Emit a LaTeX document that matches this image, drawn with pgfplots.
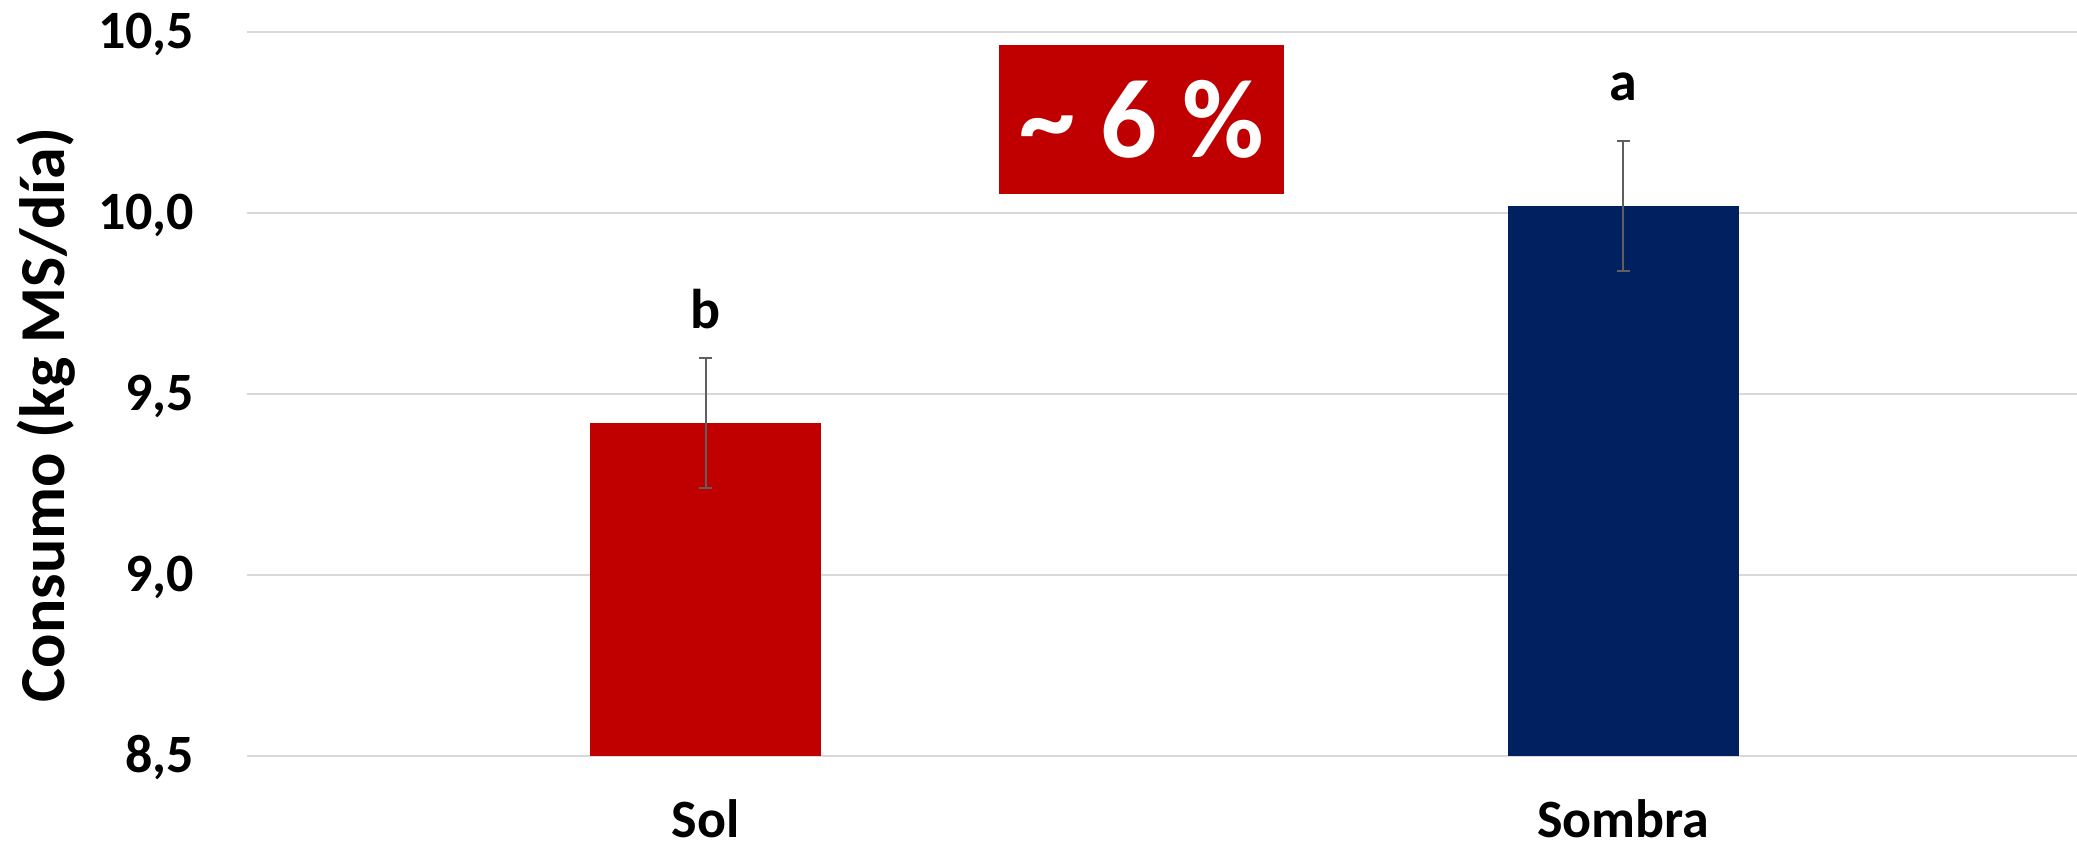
\documentclass[border=0pt]{standalone}
\usepackage{fontspec}
\setmainfont{Carlito}
\usepackage{pgfplots}
\pgfplotsset{compat=1.18}
\definecolor{solred}{HTML}{C00000}
\definecolor{sombrablue}{HTML}{002060}
\definecolor{gridgray}{HTML}{D9D9D9}
\definecolor{errgray}{HTML}{5F5F5F}
\begin{document}
\begin{tikzpicture}
\begin{axis}[
  scale only axis,
  width=457.5pt, height=181pt,
  xmin=-0.5, xmax=1.4945,
  ymin=8.5, ymax=10.5,
  ytick={8.5,9,9.5,10,10.5},
  yticklabels={{8,5},{9,0},{9,5},{10,0},{10,5}},
  xtick={0,1},
  xticklabels={Sol,Sombra},
  axis line style={draw=none},
  tick style={draw=none},
  ymajorgrids,
  grid style={color=gridgray, line width=0.55pt},
  yticklabel style={font=\fontsize{13.5}{16}\selectfont\bfseries, anchor=base east, inner sep=0pt, xshift=-13pt, yshift=-4.2pt},
  xticklabel style={font=\fontsize{13.5}{16}\selectfont\bfseries, anchor=base, inner sep=0pt, yshift=-16.2pt},
  ylabel={Consumo (kg MS/día)},
  ylabel style={font=\fontsize{16}{19}\selectfont\bfseries, at={(axis description cs:-0.0995,0.471)}, anchor=base, rotate=0, inner sep=0pt},
  ybar, bar width=0.2514, bar shift=0pt,
]
\addplot[fill=solred, draw=none, error bars/.cd, y dir=both, y explicit,
  error bar style={color=errgray, line width=0.5pt},
  error mark options={rotate=90, mark size=1.6pt, line width=0.5pt, color=errgray}]
  coordinates {(0,9.42) +- (0,0.18)};
\addplot[fill=sombrablue, draw=none, error bars/.cd, y dir=both, y explicit,
  error bar style={color=errgray, line width=0.5pt},
  error mark options={rotate=90, mark size=1.6pt, line width=0.5pt, color=errgray}]
  coordinates {(1,10.02) +- (0,0.18)};
\node[anchor=base, inner sep=0pt, font=\fontsize{14}{16}\selectfont\bfseries] at (axis cs:0,9.682) {b};
\node[anchor=base, inner sep=0pt, font=\fontsize{14}{16}\selectfont\bfseries] at (axis cs:1,10.312) {a};
\fill[solred] (axis cs:0.32,10.0525) rectangle (axis cs:0.6298,10.464);
\node[text=white, inner sep=0pt, font=\fontsize{28}{32}\selectfont\bfseries] at (axis cs:0.4749,10.2583) {\textasciitilde{} 6 \%};
\end{axis}
\pgfresetboundingbox
\useasboundingbox (-61.75pt,-22.75pt) rectangle (457.5pt,189pt);
\end{tikzpicture}
\end{document}
